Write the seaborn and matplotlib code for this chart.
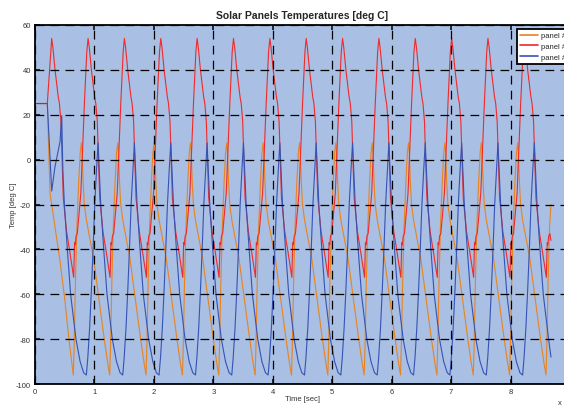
import numpy as np
import pandas as pd
import seaborn as sns
import matplotlib.pyplot as plt

# time axis is in units of 1e4 sec
# anchor times for every orbit
red_peaks = [0.281, 0.893, 1.504, 2.116, 2.727, 3.339, 3.951, 4.562, 5.174, 5.785, 6.397, 7.009, 7.620, 8.232]
orange_mins = [0.645, 1.257, 1.868, 2.480, 3.091, 3.703, 4.315, 4.926, 5.538, 6.149, 6.761, 7.373, 7.984, 8.596]
blue_peaks = [0.449, 1.061, 1.672, 2.284, 2.895, 3.507, 4.119, 4.730, 5.342, 5.953, 6.565, 7.177, 7.788, 8.400]

# start of the run (all panels at 25 deg before the first orbit)
red_start_t = [0.0, 0.207]
red_start_v = [25, 25]
orange_start_t = [0.0, 0.207, 0.253, 0.281, 0.337, 0.420, 0.500, 0.570]
orange_start_v = [25, 25, -15, -20, -30, -45, -62, -80]
blue_start_t = [0.0, 0.207, 0.281, 0.337, 0.421, 0.449]
blue_start_v = [25, 25, -14, -3, 8, 19.6]

# one orbit of each panel (offset from anchor, temperature)
red_dt = [0.000, 0.020, 0.056, 0.110, 0.130, 0.155, 0.175, 0.195, 0.250, 0.310, 0.350, 0.370,
          0.385, 0.395, 0.410, 0.430, 0.490, 0.550, 0.590]
red_val = [54, 50, 40, 28, 25, 17, 0, -17, -32, -42, -49, -52.5,
           -37, -38, -34, -33, -15, 25, 48]
orange_dt = [0.000, 0.015, 0.035, 0.060, 0.090, 0.115, 0.135, 0.150, 0.165, 0.185, 0.220, 0.270,
             0.340, 0.420, 0.520, 0.580]
orange_val = [-96, -82, -55, -30, -10, 3, 7.5, 2, -10, -20, -27, -34,
              -44, -60, -80, -91]
blue_dt = [0.000, 0.020, 0.045, 0.095, 0.150, 0.240, 0.310, 0.370, 0.415, 0.440, 0.470, 0.500,
           0.528, 0.556, 0.585]
blue_val = [7.5, -5, -20, -40, -60, -80, -90, -95, -96, -88, -75, -58,
            -40, -20, -5]

end_time = 8.68
red_end, orange_end, blue_end = -36, -20, -88

labels = ["panel #1", "panel #2", "panel #3"]
colors = ["#e8841f", "#f02a2a", "#3553b5"]


def build(start_t, start_v, anchors, dt, val, end_v):
    t = list(start_t)
    v = list(start_v)
    for a in anchors:
        for d, y in zip(dt, val):
            if a + d > t[-1] and a + d < end_time:
                t.append(a + d)
                v.append(y)
    t.append(end_time)
    v.append(end_v)
    return t, v


series = [
    build(orange_start_t, orange_start_v, orange_mins, orange_dt, orange_val, orange_end),
    build(red_start_t, red_start_v, red_peaks, red_dt, red_val, red_end),
    build(blue_start_t, blue_start_v, blue_peaks, blue_dt, blue_val, blue_end),
]

frames = []
for lab, (t, v) in zip(labels, series):
    frames.append(pd.DataFrame({"time": t, "temp": v, "panel": lab}))
df = pd.concat(frames, ignore_index=True)

sns.set_theme(style="ticks")
plt.rcParams["font.family"] = ["Liberation Sans", "DejaVu Sans"]
plt.rcParams["axes.unicode_minus"] = False

fig = plt.figure(figsize=(5.64, 4.06), dpi=100)
# the axes runs a little past the right edge of the picture, as in the original
ax = fig.add_axes([35 / 564, 21 / 406, 535 / 564, 359 / 406])
ax.set_facecolor("#a9bfe3")

sns.lineplot(data=df, x="time", y="temp", hue="panel", palette=colors,
             estimator=None, sort=False, linewidth=0.8, ax=ax)

ax.set_xlim(0, 9)
ax.set_ylim(-100, 60)
ax.set_xticks(range(0, 9))
ax.set_yticks(range(-100, 61, 20))
ax.grid(True, color="black", linestyle=(0, (7, 5)), linewidth=0.9)
ax.set_axisbelow(False)
for s in ax.spines.values():
    s.set_linewidth(1.3)
    s.set_color("black")
ax.tick_params(direction="in", length=3.5, width=1.1, labelsize=5.5, colors="black",
               labelcolor="#333333", pad=3, top=True, right=True)

ax.set_title("Solar Panels Temperatures [deg C]", fontsize=7.5, fontweight="bold", pad=5)
ax.set_xlabel("Time [sec]", fontsize=5.5, color="#333333")
ax.set_ylabel("Temp [deg C]", fontsize=5.5, color="#333333")
ax.xaxis.set_label_coords(0.5, -0.030)
ax.yaxis.set_label_coords(-0.034, 0.5)
fig.text(558 / 564, 1 - 404 / 406, "x", fontsize=5.5, color="#333333", va="center")

# legend sits at the right edge, partly past the picture like in the original
leg = ax.legend(loc="upper left", bbox_to_anchor=((517 - 35) / 535, 0.989), fontsize=5.5,
                frameon=True, fancybox=False, handlelength=2.4, borderpad=0.4,
                labelspacing=0.45, handletextpad=0.3, borderaxespad=0)
leg.get_frame().set_edgecolor("black")
leg.get_frame().set_linewidth(1.3)
leg.get_frame().set_facecolor("white")
leg.get_frame().set_alpha(1)
for line in leg.get_lines():
    line.set_linewidth(1.2)

fig.savefig("out.png", dpi=100)
